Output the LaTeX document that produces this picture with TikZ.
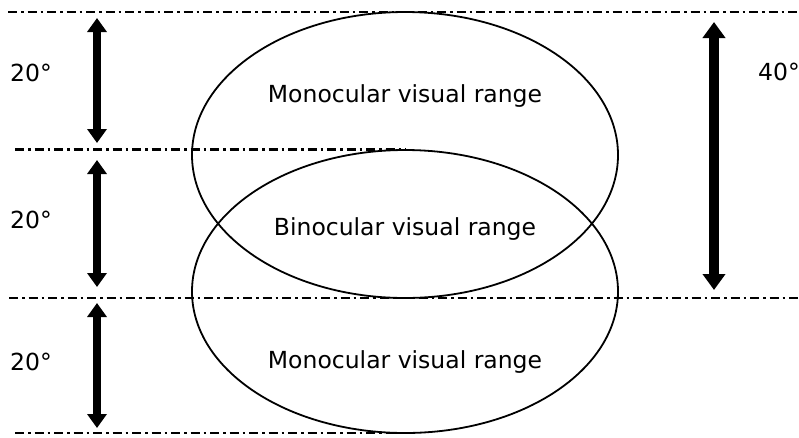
\documentclass[tikz,border=0pt]{standalone}
\usepackage{fontspec}
\setmainfont{DejaVu Sans}
\usetikzlibrary{arrows.meta}
\begin{document}
\begin{tikzpicture}[x=1pt,y=-1pt,
  guide/.style={line width=2.3pt,dash pattern=on 9pt off 4pt on 2.5pt off 4pt},
  field/.style={draw,line width=1.8pt},
  span/.style={line width=8.5pt,{Triangle[width=19pt,length=14pt]}-{Triangle[width=19pt,length=14pt]}},
  bigspan/.style={line width=10pt,{Triangle[width=22pt,length=16pt]}-{Triangle[width=22pt,length=16pt]}},
  lbl/.style={font=\fontsize{23.5}{28}\selectfont,inner sep=0pt}]
\useasboundingbox (0,0) rectangle (799,437);
% horizontal reference lines
\draw[guide] (8,12) -- (799,12);
\draw[guide] (15,149.5) -- (406,149.5);
\draw[guide] (9,298) -- (799,298);
\draw[guide] (15,433) -- (406,433);
% the two visual fields
\draw[field] (405,155) ellipse [x radius=213, y radius=143];
\draw[field] (405,291.5) ellipse [x radius=213, y radius=141.5];
% range arrows
\coordinate (a1) at (97,18);  \coordinate (b1) at (97,143);
\coordinate (a2) at (97,160); \coordinate (b2) at (97,287);
\coordinate (a3) at (97,303); \coordinate (b3) at (97,428);
\coordinate (a4) at (714,22); \coordinate (b4) at (714,290);
\draw[span] (a1) -- (b1);
\draw[span] (a2) -- (b2);
\draw[span] (a3) -- (b3);
\draw[bigspan] (a4) -- (b4);
% labels
\node[lbl] (d1) at (31,73) {20°};
\node[lbl] (d2) at (31,220) {20°};
\node[lbl] (d3) at (31,362) {20°};
\node[lbl] (d4) at (779,72) {40°};
\node[lbl] (m1) at (405,96) {Monocular visual range};
\node[lbl] (bi) at (405,229) {Binocular visual range};
\node[lbl] (m2) at (405,362) {Monocular visual range};
\end{tikzpicture}
\end{document}
